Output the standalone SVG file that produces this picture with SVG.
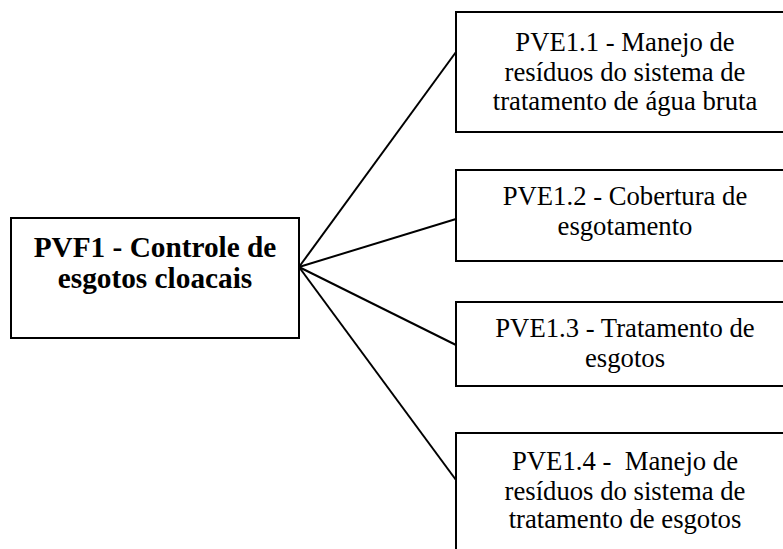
<svg xmlns="http://www.w3.org/2000/svg" width="783" height="549" viewBox="0 0 783 549">
<style>
.box{fill:#fff;stroke:#000;stroke-width:2}
.t{font-family:"Liberation Serif","Times New Roman",serif;font-size:26.7px;fill:#000;text-anchor:middle}
.b{font-family:"Liberation Serif","Times New Roman",serif;font-size:29.3px;font-weight:bold;fill:#000;text-anchor:middle}
.c{stroke:#000;stroke-width:2;fill:none}
</style>
<rect width="783" height="549" fill="#fff"/>
<g id="connectors">
<line class="c" x1="299" y1="267" x2="456" y2="52"/>
<line class="c" x1="299" y1="267" x2="456" y2="219"/>
<line class="c" x1="299" y1="267" x2="456" y2="345"/>
<line class="c" x1="299" y1="267" x2="456" y2="480"/>
</g>
<g id="pvf1">
<rect class="box" x="11" y="218" width="288" height="120"/>
<text class="b" x="155" y="257">PVF1 - Controle de</text>
<text class="b" x="155" y="288">esgotos cloacais</text>
</g>
<g id="pve1_1">
<rect class="box" x="456" y="12" width="340" height="120"/>
<text class="t" x="625" y="51">PVE1.1 - Manejo de</text>
<text class="t" x="625" y="81">resíduos do sistema de</text>
<text class="t" x="625" y="110">tratamento de água bruta</text>
</g>
<g id="pve1_2">
<rect class="box" x="456" y="170" width="340" height="91"/>
<text class="t" x="625" y="205">PVE1.2 - Cobertura de</text>
<text class="t" x="625" y="235">esgotamento</text>
</g>
<g id="pve1_3">
<rect class="box" x="456" y="302" width="340" height="84"/>
<text class="t" x="625" y="337">PVE1.3 - Tratamento de</text>
<text class="t" x="625" y="367">esgotos</text>
</g>
<g id="pve1_4">
<rect class="box" x="456" y="433" width="340" height="140"/>
<text class="t" x="625" y="470" xml:space="preserve">PVE1.4 -  Manejo de</text>
<text class="t" x="625" y="500">resíduos do sistema de</text>
<text class="t" x="625" y="528">tratamento de esgotos</text>
</g>
</svg>
